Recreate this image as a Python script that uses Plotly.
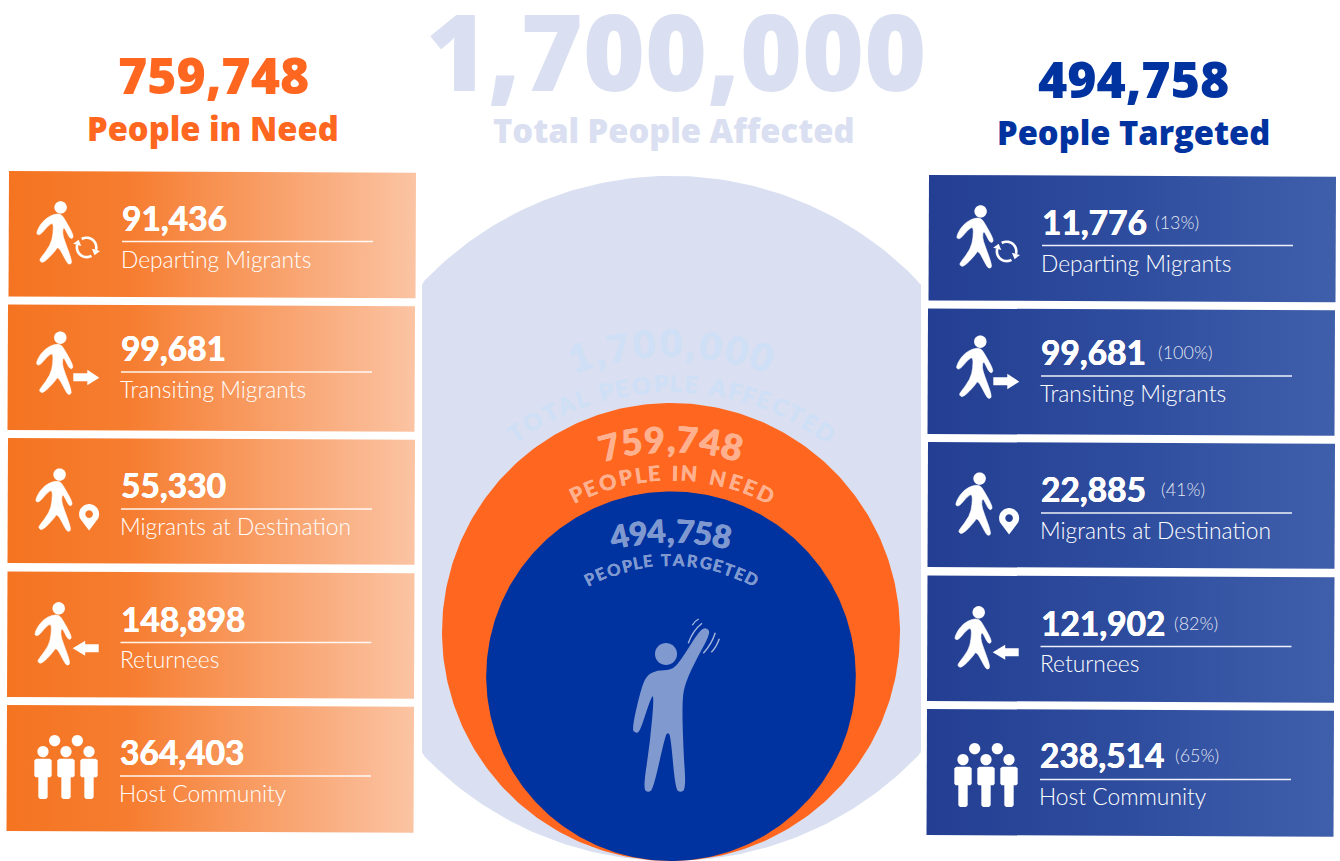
import numpy as np
import plotly.graph_objects as go

# ---- figures shown on the sheet ----
TOTAL_AFFECTED = 1700000
PEOPLE_IN_NEED = 759748
PEOPLE_TARGETED = 494758

categories = ["Departing Migrants", "Transiting Migrants", "Migrants at Destination", "Returnees", "Host Community"]
need_values = [91436, 99681, 55330, 148898, 364403]
target_values = [11776, 99681, 22885, 121902, 238514]
target_shares = ["(13%)", "(100%)", "(41%)", "(82%)", "(65%)"]

# ---- palette and type ----
ORANGE = "#FF6720"
BLUE = "#0033A0"
PALE = "#DAE0F1"
FONT = "Lato"
HEAVY = "Open Sans"
W, H = 1340, 861

# ---- card geometry (top-left corner of each card on the sheet) ----
left_card_x = [9, 8, 8, 7.5, 7]
left_card_y = [171, 304.5, 438, 571.5, 705]
left_card_h = [125.5, 125.5, 125, 125.5, 126]
right_dx, right_dy = 920, 4
card_w, card_tilt = 407, 1.7

num_dx = [111, 111, 111, 111, 111]
num_dy = [47, 43.5, 47, 47.5, 47]
rule_dy = [70.5, 67.5, 71, 71, 71]
label_dy = [88, 84.5, 88, 87.5, 88]
right_text_shift = [0, 0, 0, 0, -1.5]
rule_len = 251
share_x = [1153, 1156, 1159, 1172, 1173]

shapes, notes = [], []


def fmt(v):
    return f"{v:,}"


def poly(points):
    return "M " + " L ".join(f"{x:.2f},{y:.2f}" for x, y in points) + " Z"


def smooth(points):
    """Closed outline with quadratic corners through the edge midpoints."""
    p = np.asarray(points, float)
    mids = (p + np.roll(p, -1, axis=0)) / 2
    d = f"M {mids[-1][0]:.2f},{mids[-1][1]:.2f}"
    for c, m in zip(p, mids):
        d += f" Q {c[0]:.2f},{c[1]:.2f} {m[0]:.2f},{m[1]:.2f}"
    return d + " Z"


def circle_pts(cx, cy, r, n=48):
    t = np.linspace(0, 2 * np.pi, n, endpoint=False)
    return np.column_stack([cx + r * np.cos(t), cy + r * np.sin(t)])


def add_path(d, fill="white", line=None, width=0.0):
    shapes.append(dict(type="path", path=d, xref="x", yref="y", layer="above",
                       fillcolor=fill, line=dict(color=line or fill, width=width)))


def text(x, y, s, size, color, weight=400, anchor="left", angle=0, family=FONT, fatten=0):
    font = dict(family=family, size=size, color=color, weight=weight)
    if fatten:
        font["shadow"] = f"{fatten}px 0 0 {color}, -{fatten}px 0 0 {color}"
    notes.append(dict(x=x, y=y, xref="x", yref="y", text=s, showarrow=False,
                      xanchor=anchor, yanchor="middle", textangle=angle, font=font))


# outline of the walking figure, relative to the centre of the head (3x units)
WALKER = [(50, 127), (60, 105), (78, 85), (100, 73), (122, 71), (133, 85), (162, 137), (156, 147), (147, 141),
          (131, 107), (127, 130), (135, 155), (158, 217), (148, 224), (140, 216), (115, 167), (106, 183),
          (70, 220), (58, 212), (63, 203), (92, 165), (100, 130), (100, 97), (85, 106), (62, 134), (52, 134)]


def walker(hx, hy):
    add_path(poly(circle_pts(hx, hy, 6.2, 32)))
    add_path(smooth([(hx + (px - 122) / 3, hy + (py - 52) / 3) for px, py in WALKER]), width=0.6, line="white")


def ring_arc(cx, cy, a0, a1, r0=8.4, r1=11.0):
    t = np.radians(np.linspace(a0, a1, 24))
    outer = np.column_stack([cx + r1 * np.cos(t), cy + r1 * np.sin(t)])
    inner = np.column_stack([cx + r0 * np.cos(t[::-1]), cy + r0 * np.sin(t[::-1])])
    add_path(poly(np.vstack([outer, inner])))
    # arrow tip continues clockwise from the end of the arc
    e = np.radians(a1)
    mid = (r0 + r1) / 2
    bx, by = cx + mid * np.cos(e), cy + mid * np.sin(e)
    rx, ry = np.cos(e), np.sin(e)
    tx, ty = -np.sin(e), np.cos(e)
    add_path(poly([(bx + 4.2 * rx, by + 4.2 * ry), (bx - 4.2 * rx, by - 4.2 * ry), (bx + 5.4 * tx, by + 5.4 * ty)]))


def icon_depart(hx, hy):
    walker(hx, hy)
    ring_arc(hx + 26, hy + 40, 240, 375)
    ring_arc(hx + 26, hy + 40, 60, 195)


def icon_transit(hx, hy):
    walker(hx, hy)
    add_path(poly([(hx + 13, hy + 35.5), (hx + 27, hy + 35.5), (hx + 27, hy + 32), (hx + 39, hy + 40),
                   (hx + 27, hy + 47.5), (hx + 27, hy + 43.5), (hx + 13, hy + 43.5)]))


def icon_pin(hx, hy, hole):
    walker(hx, hy)
    cx, cy = hx + 29.5, hy + 39.5
    t = np.radians(np.linspace(150, 390, 40))
    outline = [(cx + 10 * np.cos(a), cy + 10 * np.sin(a)) for a in t] + [(cx, cy + 16.5)]
    add_path(poly(outline))
    add_path(poly(circle_pts(cx, cy, 3.8, 24)), fill=hole)


def icon_return(hx, hy):
    walker(hx, hy)
    add_path(poly([(hx + 40, hy + 36), (hx + 26.5, hy + 36), (hx + 26.5, hy + 32.5), (hx + 14, hy + 40),
                   (hx + 26.5, hy + 47.5), (hx + 26.5, hy + 44), (hx + 40, hy + 44)]))


def icon_group(ox, oy):
    for bx in (104, 172):
        add_path(poly(circle_pts(ox + bx / 3, oy + 47 / 3, 5.6, 28)))
    for bx in (69, 138, 207):
        add_path(poly(circle_pts(ox + bx / 3, oy + 80 / 3, 5.6, 28)))
        body = [(bx - 26, 106), (bx - 20, 101), (bx + 20, 101), (bx + 26, 106), (bx + 26, 152), (bx + 22, 157),
                (bx + 14, 157), (bx + 14, 217), (bx + 9, 222), (bx - 9, 222), (bx - 14, 217), (bx - 14, 157),
                (bx - 22, 157), (bx - 26, 152)]
        add_path(poly([(ox + a / 3, oy + b / 3) for a, b in body]))


GLYPH = {",": .30, " ": .34, "I": .30, "T": .58, "O": .82, "E": .56, "L": .50, "P": .60, "A": .70, "F": .52,
         "C": .70, "D": .76, "N": .78, "R": .62, "G": .76}


def arc_text(s, cy, radius, half_angle, size, color, weight=700, cx=671, fatten=0):
    w = np.array([GLYPH.get(c, .60) for c in s])
    mid = np.cumsum(w) - w / 2
    u = (mid - mid[0]) / (mid[-1] - mid[0]) * 2 - 1
    for c, f in zip(s, u):
        if c == " ":
            continue
        a = np.radians(f * half_angle)
        text(cx + radius * np.sin(a), cy - radius * np.cos(a), c, size, color, weight, "center",
             float(np.degrees(a)), fatten=fatten)


fig = go.Figure()

# nested circles, sized by area and resting on the bottom edge
k = 229 / np.sqrt(PEOPLE_IN_NEED)
cx0, base = 671, 861
theta = np.linspace(0, 2 * np.pi, 361)


def disc(value):
    r = k * np.sqrt(value)
    return cx0 + r * np.cos(theta), base - r + r * np.sin(theta)


bx, by = disc(TOTAL_AFFECTED)
fig.add_trace(go.Scatter(x=np.clip(bx, 422, 921), y=by, mode="lines", fill="toself", fillcolor=PALE,
                         line=dict(width=0, color=PALE), hoverinfo="skip"))
for value, colour in ((PEOPLE_IN_NEED, ORANGE), (PEOPLE_TARGETED, BLUE)):
    ox, oy = disc(value)
    fig.add_trace(go.Scatter(x=ox, y=oy, mode="lines", fill="toself", fillcolor=colour,
                             line=dict(width=0, color=colour), hoverinfo="skip"))

# gradient cards and their contents
left_scale = [[0, "#F47421"], [0.3, "#F67D30"], [0.75, "#F9AA7A"], [1, "#FBC4A3"]]
right_scale = [[0, "#233E92"], [0.5, "#2F4D9E"], [1, "#3F5FAB"]]
left_heads = [(60.6, 207.4), (60.3, 337.7), (59.6, 474.6), (58.7, 608.3)]
group_origin = (20, 725)

for side in ("left", "right"):
    right = side == "right"
    dx, dy = (right_dx, right_dy) if right else (0, 0)
    scale = right_scale if right else left_scale
    values = target_values if right else need_values
    for i, name in enumerate(categories):
        x0, y0, h = left_card_x[i] + dx, left_card_y[i] + dy, left_card_h[i]
        fig.add_trace(go.Scatter(
            x=[x0, x0 + card_w, x0 + card_w - 0.5, x0 - 0.5, x0],
            y=[y0, y0 + card_tilt, y0 + card_tilt + h, y0 + h, y0],
            mode="lines", fill="toself", line=dict(width=0, color="rgba(0,0,0,0)"),
            fillgradient=dict(type="horizontal", colorscale=scale), hoverinfo="skip"))
        tx = x0 + num_dx[i]
        nudge = right_text_shift[i] if right else 0
        text(tx, y0 + num_dy[i] + nudge, fmt(values[i]), 33.5, "white", 700, fatten=0.35)
        shapes.append(dict(type="line", x0=tx + 2, x1=tx + 2 + rule_len,
                           y0=y0 + rule_dy[i] + nudge / 3, y1=y0 + rule_dy[i] + nudge / 3,
                           xref="x", yref="y", layer="above",
                           line=dict(color="rgba(255,255,255,0.92)", width=1.3)))
        text(tx - 1, y0 + label_dy[i] + nudge, name, 22.8, "white", 300)
        if right:
            text(share_x[i], y0 + num_dy[i] + nudge, target_shares[i], 18, "rgba(255,255,255,0.88)", 300)

    hole = "#243F93" if right else "#F67A2B"
    hx, hy = left_heads[0]
    icon_depart(hx + dx, hy + dy)
    hx, hy = left_heads[1]
    icon_transit(hx + dx, hy + dy)
    hx, hy = left_heads[2]
    icon_pin(hx + dx, hy + dy, hole)
    hx, hy = left_heads[3]
    icon_return(hx + dx, hy + dy)
    icon_group(group_origin[0] + dx, group_origin[1] + (8 if right else 0))

# person waving inside the inner circle
PERSON_FILL = "#809AD0"
add_path(poly(circle_pts(600 + 198 / 3, 600 + 162 / 3, 11, 36)), fill=PERSON_FILL)
PERSON = [(107, 400), (95, 388), (122, 270), (140, 225), (172, 211), (212, 211), (238, 188), (298, 92), (318, 82),
          (333, 98), (292, 172), (257, 245), (246, 300), (250, 450), (258, 566), (241, 578), (226, 566),
          (212, 410), (204, 396), (195, 410), (160, 566), (145, 578), (129, 566), (150, 430), (163, 280),
          (150, 300), (120, 395)]
add_path(smooth([(600 + a / 3, 600 + b / 3) for a, b in PERSON]), fill=PERSON_FILL)
for (a, b, c) in (((265, 130), (278, 92), (306, 70)), ((277, 76), (283, 64), (296, 57)),
                  ((310, 160), (335, 132), (346, 98)), ((334, 157), (350, 140), (358, 116))):
    d = f"M {600 + a[0] / 3:.1f},{600 + a[1] / 3:.1f} Q {600 + b[0] / 3:.1f},{600 + b[1] / 3:.1f} {600 + c[0] / 3:.1f},{600 + c[1] / 3:.1f}"
    shapes.append(dict(type="path", path=d, xref="x", yref="y", layer="above",
                       fillcolor="rgba(0,0,0,0)", line=dict(color="#A5B7DE", width=1.4)))

# headlines
text(213, 74.5, fmt(PEOPLE_IN_NEED), 50, ORANGE, 800, "center", family=HEAVY)
text(213, 128, "People in Need", 32.7, ORANGE, 800, "center", family=HEAVY)
text(676, 50, fmt(TOTAL_AFFECTED), 106, PALE, 800, "center", family=HEAVY)
text(673, 130, "Total People Affected", 32.7, PALE, 800, "center", family=HEAVY)
text(1133, 78.5, fmt(PEOPLE_TARGETED), 50, BLUE, 800, "center", family=HEAVY)
text(1133, 132, "People Targeted", 32.7, BLUE, 800, "center", family=HEAVY)

# lettering that follows the circles
ARC_PALE = "#CFDFF6"
arc_text(fmt(TOTAL_AFFECTED), 638, 296, 18, 38, ARC_PALE, 900, fatten=0.4)
arc_text("TOTAL PEOPLE AFFECTED", 653, 270, 35, 23, ARC_PALE, 900, fatten=0.3)
arc_text(fmt(PEOPLE_IN_NEED), 675, 237, 15, 36, "#FFB18F", 900, fatten=0.4)
arc_text("PEOPLE IN NEED", 688, 216, 26, 21, "#FFB18F", 700, fatten=0.3)
arc_text(fmt(PEOPLE_TARGETED), 758, 228, 13, 32, "#7F99D0", 900, fatten=0.4)
arc_text("PEOPLE TARGETED", 738, 178, 27, 16.5, "#7F99D0", 700, fatten=0.2)

fig.update_layout(
    width=W, height=H, margin=dict(l=0, r=0, t=0, b=0), showlegend=False,
    paper_bgcolor="white", plot_bgcolor="white", shapes=shapes, annotations=notes,
    xaxis=dict(range=[0, W], visible=False, fixedrange=True),
    yaxis=dict(range=[H, 0], visible=False, fixedrange=True),
)
fig.write_html("out.html", config={"displayModeBar": False})
